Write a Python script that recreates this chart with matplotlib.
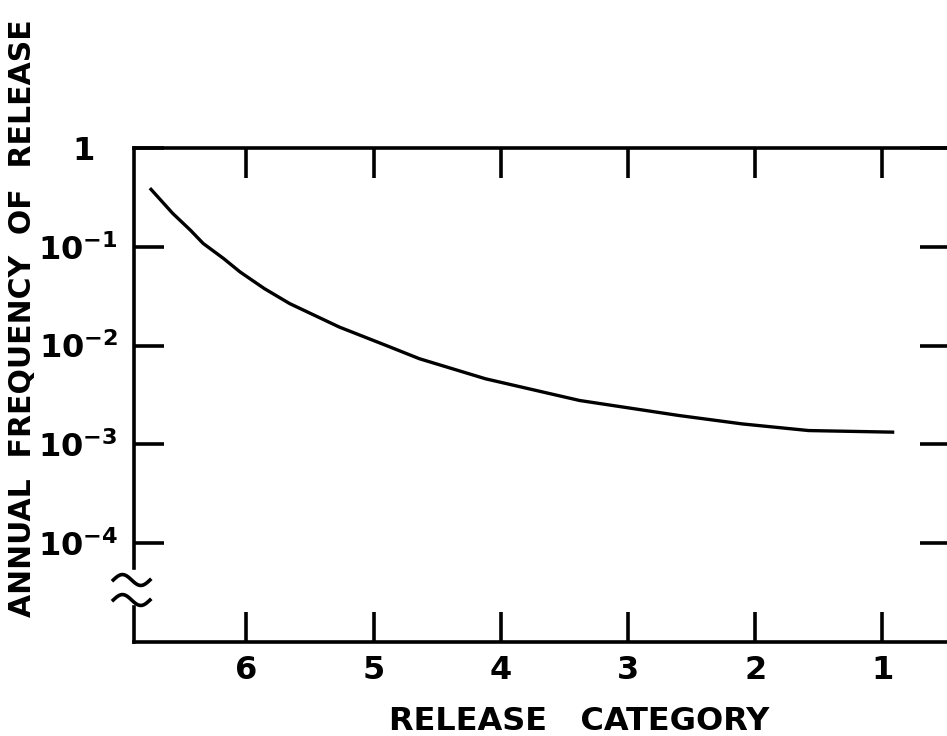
import numpy as np
import matplotlib
matplotlib.use("Agg")
import matplotlib.pyplot as plt

# curve (release category vs annual frequency)
category = [6.75, 6.58, 6.44, 6.34, 6.18, 6.05, 5.86, 5.66, 5.27, 4.87,
            4.64, 4.12, 3.38, 2.60, 2.10, 1.58, 0.92]
frequency = [0.381, 0.218, 0.147, 0.108, 0.0761, 0.0556, 0.0378, 0.0266,
             0.0154, 0.00966, 0.00736, 0.00461, 0.00278, 0.00196, 0.00161,
             0.00138, 0.00133]

x_ticks = [6, 5, 4, 3, 2, 1]
x_labels = ['6', '5', '4', '3', '2', '1']
y_ticks = [1, 1e-1, 1e-2, 1e-3, 1e-4]
y_labels = ['1  ', r'$10^{-1}$', r'$10^{-2}$', r'$10^{-3}$', r'$10^{-4}$']

plt.rcParams['font.family'] = 'DejaVu Sans'
plt.rcParams['font.weight'] = 'bold'
plt.rcParams['axes.labelweight'] = 'bold'
plt.rcParams['mathtext.default'] = 'bf'

fig = plt.figure(figsize=(9.47, 7.36), dpi=100)
ax = fig.add_axes([0.142, 0.1277, 0.861, 0.6713])

lw = 2.6
ax.plot(category, frequency, color='black', lw=2.4, solid_joinstyle='round')

ax.set_yscale('log')
ax.set_xlim(6.88, 0.47)
ax.set_ylim(1e-5, 1)

ax.set_xticks(x_ticks, x_labels)
ax.set_yticks(y_ticks, y_labels)
ax.yaxis.set_minor_locator(plt.NullLocator())
ax.xaxis.set_minor_locator(plt.NullLocator())
ax.tick_params(which='major', direction='in', length=21.6, width=lw,
               top=True, right=True, labelsize=23, colors='black')
ax.tick_params(axis='x', pad=9)
ax.tick_params(axis='y', pad=12)

for s in ['top', 'right', 'bottom']:
    ax.spines[s].set_linewidth(lw)

# left spine with an axis break (two tildes)
ax.spines['left'].set_visible(False)
ax.plot([0, 0], [0.150, 1.0], transform=ax.transAxes, color='black',
        lw=lw, clip_on=False, solid_capstyle='projecting')
ax.plot([0, 0], [0.0, 0.071], transform=ax.transAxes, color='black',
        lw=lw, clip_on=False, solid_capstyle='projecting')
t = np.linspace(0, 1, 60)
for yc in [0.1255, 0.085]:
    ax.plot(-0.026 + 0.045 * t, yc + 0.011 * np.sin(2 * np.pi * t),
            transform=ax.transAxes, color='black', lw=lw, clip_on=False)

ax.set_xlabel('RELEASE   CATEGORY', fontsize=23)
ax.xaxis.set_label_coords(0.546, -0.13)
ax.set_ylabel('ANNUAL  FREQUENCY  OF  RELEASE', fontsize=21.5)
ax.yaxis.set_label_coords(-0.12, 0.655)

fig.savefig('out.png', dpi=100)
